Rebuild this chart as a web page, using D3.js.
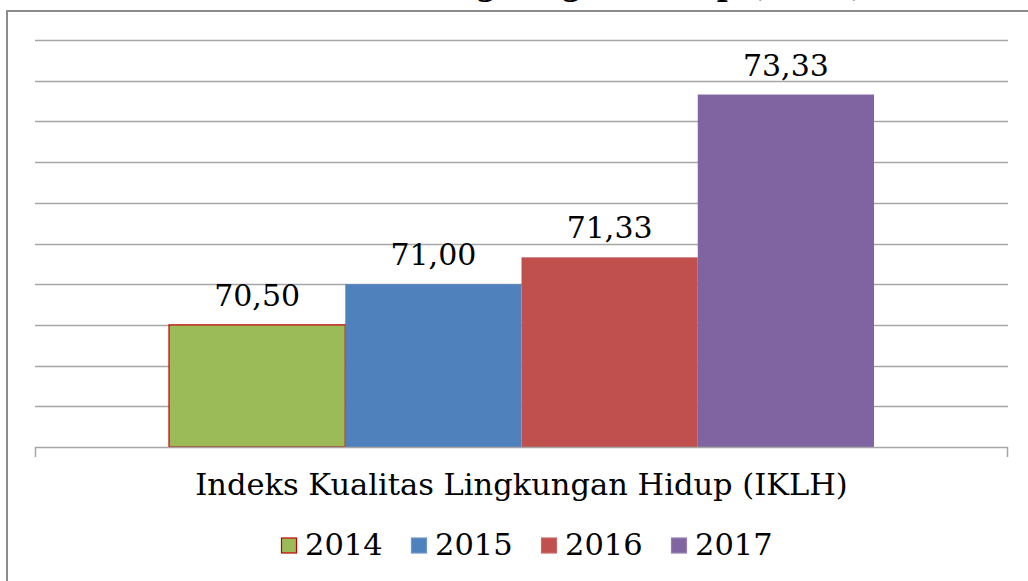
<!DOCTYPE html>
<html>
<head>
<meta charset="utf-8">
<script src="https://cdn.jsdelivr.net/npm/d3@7"></script>
<style>
  html, body { margin: 0; padding: 0; background: #fff; }
  svg { display: block; }
</style>
</head>
<body>
<svg id="chart" width="1028" height="581"></svg>
<script>
const titleText = "Indeks Kualitas Lingkungan Hidup (IKLH)";
const category = "Indeks Kualitas Lingkungan Hidup (IKLH)";
const seriesNames = ["2014", "2015", "2016", "2017"];
const seriesValues = [70.50, 71.00, 71.33, 73.33];
const valueLabels = ["70,50", "71,00", "71,33", "73,33"];
const seriesColors = ["#9BBB59", "#4F81BD", "#C0504D", "#8064A2"];
const seriesStrokes = ["#C00000", "#6F95C9", "#C96A67", "#9580B3"];
const yTicks = [69, 69.5, 70, 70.5, 71, 71.5, 72, 72.5, 73, 73.5, 74];

const svg = d3.select("#chart");
const font = "'DejaVu Serif', serif";

// outer frame (cut at the right and bottom)
svg.append("rect").attr("x", 7).attr("y", 11).attr("width", 1040).attr("height", 600)
  .attr("fill", "none").attr("stroke", "#8c8c8c").attr("stroke-width", 2);

// title, cut off at top as in the reference
svg.append("text").attr("x", 866).attr("y", -4).attr("text-anchor", "end")
  .attr("font-family", font).attr("font-weight", "bold").attr("font-size", 30)
  .attr("fill", "#000").text(titleText);

const plot = { left: 35, right: 1008, top: 40, bottom: 447 };

const y = d3.scaleLinear().domain([69, 74]).range([plot.bottom, plot.top]);
const x0 = d3.scaleBand().domain([category]).range([plot.left, plot.right]).paddingInner(0).paddingOuter(0);
const groupWidth = 705;
const x1 = d3.scaleBand().domain(seriesNames)
  .range([x0(category) + (x0.bandwidth() - groupWidth) / 2, x0(category) + (x0.bandwidth() + groupWidth) / 2]);

// gridlines
svg.append("g").selectAll("line").data(yTicks.slice(1)).join("line")
  .attr("x1", plot.left).attr("x2", plot.right)
  .attr("y1", d => Math.round(y(d)) + 0.5).attr("y2", d => Math.round(y(d)) + 0.5)
  .attr("stroke", "#a6a6a6").attr("stroke-width", 1.3);

// bars
svg.append("g").selectAll("rect").data(seriesValues).join("rect")
  .attr("x", (d, i) => x1(seriesNames[i]))
  .attr("width", x1.bandwidth())
  .attr("y", d => y(d))
  .attr("height", d => y(69) - y(d))
  .attr("fill", (d, i) => seriesColors[i])
  .attr("stroke", (d, i) => i === 0 ? seriesStrokes[0] : "none")
  .attr("stroke-width", 1.2);

// x axis
const xAxis = d3.axisBottom(x0).tickSize(0).tickFormat("");
const ax = svg.append("g").attr("transform", `translate(0,${plot.bottom})`).call(xAxis);
ax.select(".domain").remove();
svg.append("path")
  .attr("d", `M${plot.left + 0.5},${plot.bottom + 10}V${plot.bottom + 0.5}H${plot.right - 0.5}V${plot.bottom + 10}`)
  .attr("fill", "none").attr("stroke", "#a6a6a6").attr("stroke-width", 1.5);

// value labels
svg.append("g").selectAll("text").data(seriesValues).join("text")
  .attr("x", (d, i) => x1(seriesNames[i]) + x1.bandwidth() / 2)
  .attr("y", d => y(d) - 19)
  .attr("text-anchor", "middle")
  .attr("font-family", font).attr("font-size", 30).attr("fill", "#000")
  .text((d, i) => valueLabels[i]);

// category label
svg.append("text").attr("x", x0(category) + x0.bandwidth() / 2).attr("y", 495)
  .attr("text-anchor", "middle").attr("font-family", font).attr("font-size", 30.5).attr("fill", "#000")
  .text(category);

// legend
const legend = svg.append("g");
const legX = d3.scaleBand().domain(seriesNames).range([281, 281 + 130 * 4]);
const items = legend.selectAll("g").data(seriesNames).join("g")
  .attr("transform", d => `translate(${legX(d)},0)`);
items.append("rect").attr("x", 0.5).attr("y", 538).attr("width", 15).attr("height", 15)
  .attr("fill", (d, i) => seriesColors[i])
  .attr("stroke", (d, i) => seriesStrokes[i]).attr("stroke-width", 1.2);
items.append("text").attr("x", 24).attr("y", 555)
  .attr("font-family", font).attr("font-size", 30.5).attr("fill", "#000")
  .text(d => d);
</script>
</body>
</html>
